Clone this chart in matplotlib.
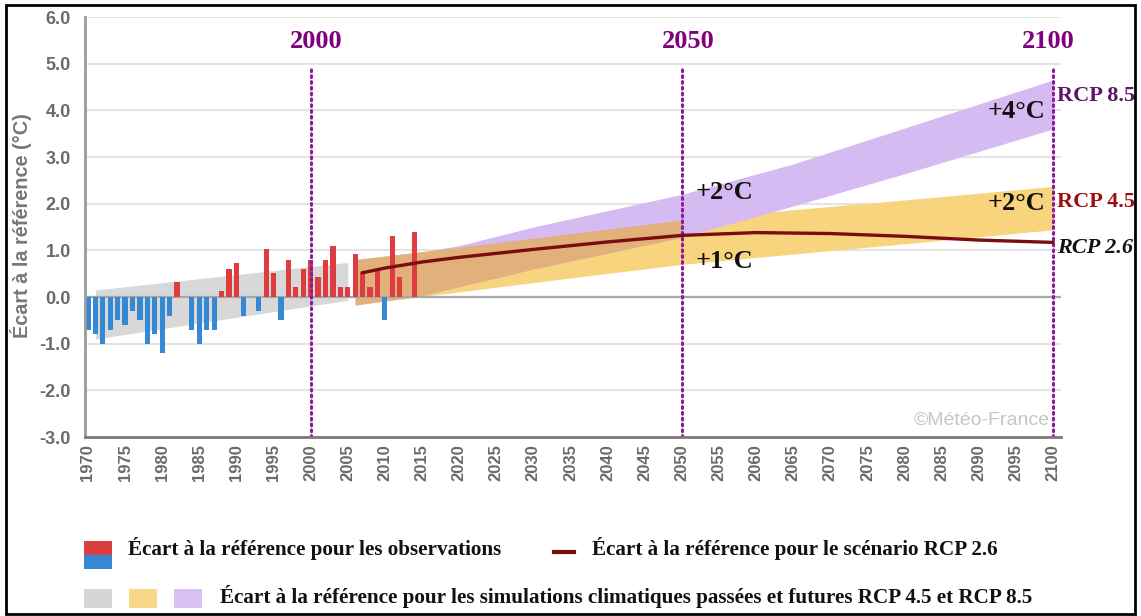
import matplotlib
matplotlib.use("Agg")
import matplotlib.pyplot as plt
from matplotlib.patches import Rectangle
from matplotlib.lines import Line2D
import numpy as np

# ---------------- data ----------------
obs_years = list(range(1970, 2015))
obs_values = [-0.71, -0.80, -1.01, -0.71, -0.50, -0.61, -0.30, -0.50, -1.01, -0.80,
              -1.19, -0.41, 0.32, 0.0, -0.71, -1.01, -0.71, -0.71, 0.13, 0.61,
              0.72, -0.41, 0.0, -0.30, 1.02, 0.51, -0.50, 0.79, 0.21, 0.61,
              0.79, 0.43, 0.79, 1.09, 0.21, 0.21, 0.92, 0.53, 0.21, 0.61,
              -0.50, 1.31, 0.43, 0.0, 1.39]

past_years = [1971, 2005]
past_low = [-0.90, -0.07]
past_high = [0.15, 0.74]

band_years = [2006, 2015, 2020, 2030, 2050, 2065, 2080, 2100]
rcp45_low = [-0.17, 0.01, 0.11, 0.31, 0.70, 0.92, 1.14, 1.44]
rcp45_high = [0.80, 0.97, 1.07, 1.26, 1.65, 1.87, 2.08, 2.37]
rcp85_low = [-0.17, 0.03, 0.22, 0.60, 1.28, 1.95, 2.64, 3.60]
rcp85_high = [0.80, 0.97, 1.10, 1.50, 2.20, 2.85, 3.62, 4.65]

rcp26_years = [2007, 2010, 2015, 2020, 2030, 2040, 2050, 2060, 2070, 2080, 2090, 2100]
rcp26_values = [0.52, 0.62, 0.75, 0.85, 1.02, 1.18, 1.32, 1.38, 1.36, 1.30, 1.22, 1.17]

marker_years = [2000, 2050, 2100]
x_ticks = list(range(1970, 2101, 5))
y_ticks = [-3, -2, -1, 0, 1, 2, 3, 4, 5, 6]

# ---------------- style ----------------
W, H = 1141, 616
fig = plt.figure(figsize=(W / 100, H / 100), dpi=100)
ax = fig.add_axes([85 / W, 1 - 437 / H, (1061 - 85) / W, (437 - 17) / H])

RED = '#de3d3f'
BLUE = '#3588d3'
GREY_BAND = '#d8d8d8'
ORANGE = '#f8d47f'
PURPLE = '#d6baf2'
OVERLAP = '#e2b07b'
LINE = '#7a0d0d'
DOT = '#8c1a9a'
TICK_FONT = ['Liberation Sans Narrow', 'Liberation Sans', 'DejaVu Sans']
SERIF = ['Liberation Serif', 'DejaVu Serif']

ax.set_xlim(1969.6, 2101.08)
ax.set_ylim(-3, 6)

# grid
for yv in y_ticks:
    ax.axhline(yv, color='#e4e4e4', lw=1.5, zorder=0)

# bands
ax.fill_between(past_years, past_low, past_high, color=GREY_BAND, lw=0, zorder=1)
ax.fill_between(band_years, rcp45_low, rcp45_high, color=ORANGE, lw=0, zorder=1)
ax.fill_between(band_years, rcp85_low, rcp85_high, color=PURPLE, lw=0, zorder=1.1)
ov_low = np.maximum(rcp45_low, rcp85_low)
ov_high = np.minimum(rcp45_high, rcp85_high)
ax.fill_between(band_years, ov_low, ov_high, where=ov_high > ov_low,
                color=OVERLAP, lw=0, zorder=1.2)

ax.axhline(0, color='#a8a8a8', lw=1.6, zorder=2)

# bars
colors = [RED if v > 0 else BLUE for v in obs_values]
ax.bar(obs_years, obs_values, width=0.7, color=colors, zorder=3)

# vertical dotted markers
for yr in marker_years:
    ax.plot([yr, yr], [-3, 4.9], color=DOT, lw=2.2, ls=(0, (0.6, 1.3)), zorder=4,
            solid_capstyle='butt', dash_capstyle='round')

# RCP 2.6 line
ax.plot(rcp26_years, rcp26_values, color=LINE, lw=2.4, zorder=5)

# spines
for s in ['top', 'right']:
    ax.spines[s].set_visible(False)
ax.spines['left'].set_color('#9a9a9a')
ax.spines['left'].set_linewidth(2)
ax.spines['bottom'].set_color('#7a7a7a')
ax.spines['bottom'].set_linewidth(2)
ax.spines['left'].set_zorder(6)
ax.spines['bottom'].set_zorder(6)

ax.set_yticks(y_ticks)
ax.set_yticklabels([f'{v:.1f}' for v in y_ticks], family=TICK_FONT,
                   fontweight='bold', fontsize=13, color='#6a6a6a')
ax.set_xticks(x_ticks)
ax.set_xticklabels([str(v) for v in x_ticks], rotation=90, family=TICK_FONT,
                   fontweight='bold', fontsize=12, color='#6a6a6a')
ax.tick_params(axis='y', length=0, pad=10)
ax.tick_params(axis='x', length=0, pad=5)

# annotations
for yr, xpos in zip(marker_years, [2000.7, 2050.8, 2099.4]):
    ax.text(xpos, 5.47, str(yr), ha='center', va='center', family=SERIF,
            fontweight='bold', fontsize=19, color='#800080', zorder=7)

ann = dict(ha='center', va='center', family=SERIF, fontweight='bold',
           fontsize=19, color='#111111', zorder=7)
ax.text(2095.1, 3.98, '+4°C', **ann)
ax.text(2095.1, 2.00, '+2°C', **ann)
ax.text(2055.8, 2.24, '+2°C', **ann)
ax.text(2055.8, 0.75, '+1°C', **ann)

ax.text(2100.5, 4.30, 'RCP 8.5', ha='left', va='center', family=SERIF,
        fontweight='bold', fontsize=16, color='#5e1569', clip_on=False, zorder=7)
ax.text(2100.5, 2.03, 'RCP 4.5', ha='left', va='center', family=SERIF,
        fontweight='bold', fontsize=16, color='#9e0e0e', clip_on=False, zorder=7)
ax.text(2100.5, 1.06, 'RCP 2.6', ha='left', va='center', family=SERIF,
        fontweight='bold', style='italic', fontsize=16, color='#111111',
        clip_on=False, zorder=7)

ax.text(2099.6, -2.65, '©Météo-France', ha='right', va='center',
        family=['Liberation Sans', 'DejaVu Sans'], fontsize=14,
        color='#c6c6c6', zorder=7)

# y label
fig.text(21 / W, 1 - 226 / H, 'Écart à la référence (°C)', rotation=90,
         ha='center', va='center', family=['Liberation Sans', 'DejaVu Sans'],
         fontweight='bold', fontsize=14.3, color='#777777')


# ---------------- legend (figure coords) ----------------
def fx(px):
    return px / W


def fy(py):
    return 1 - py / H


def patch(x0, y0, x1, y1, color):
    fig.patches.append(Rectangle((fx(x0), fy(y1)), fx(x1) - fx(x0), fy(y0) - fy(y1),
                                 transform=fig.transFigure, color=color, lw=0))


patch(84, 541, 112, 555, RED)
patch(84, 555, 112, 569, BLUE)
patch(84, 589, 112, 608, '#d6d6d6')
patch(129, 589, 157, 608, '#f8d888')
patch(174, 589, 202, 608, '#d9bff2')
fig.lines.append(Line2D([fx(554), fx(574)], [fy(552), fy(552)],
                        transform=fig.transFigure, color=LINE, lw=3))

leg = dict(ha='left', va='center', family=SERIF, fontweight='bold',
           fontsize=15.2, color='#111111')
fig.text(fx(128), fy(549), 'Écart à la référence pour les observations', **leg)
fig.text(fx(592), fy(549), 'Écart à la référence pour le scénario RCP 2.6', **leg)
fig.text(fx(220), fy(597),
         'Écart à la référence pour les simulations climatiques passées et futures RCP 4.5 et RCP 8.5',
         **leg)

# outer frame
fig.patches.append(Rectangle((fx(6), fy(614)), fx(1135) - fx(6), fy(5) - fy(614),
                             transform=fig.transFigure, fill=False, ec='black', lw=2))

fig.savefig('out.png', dpi=100)
